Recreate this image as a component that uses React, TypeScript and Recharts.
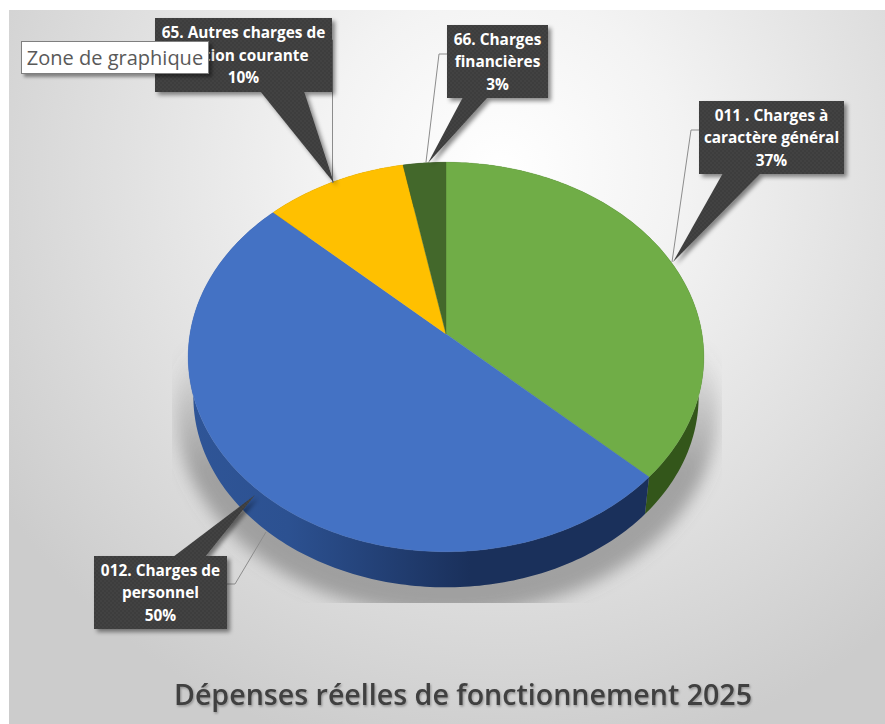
import { PieChart, Pie } from 'recharts'

const categories = [
  '011 . Charges à caractère général',
  '012. Charges de personnel',
  '65. Autres charges de gestion courante',
  '66. Charges financières',
]
const values = [37, 50, 10, 3]
const faceColors = ['#70ad47', '#4472c4', '#ffc000', '#43682b']
const wallColors = ['#33561a', 'url(#blueWall)', '#997300', '#28401a']
const labelLines = [
  ['011 . Charges à', 'caractère général'],
  ['012. Charges de', 'personnel'],
  ['65. Autres charges de', 'gestion courante'],
  ['66. Charges', 'financières'],
]

const faceData = categories.map((name, i) => ({ name, value: values[i], fill: faceColors[i] }))
const wallData = categories.map((name, i) => ({ name, value: values[i], fill: wallColors[i] }))

// callout layout, same order as the categories
const callouts = [
  { box: [699, 101, 145, 73], base: [723, 761], tip: [673, 262], leader: '699,130 691,130 672,262' },
  { box: [94, 556, 133, 73], base: [173, 205], tip: [255, 495], leader: '227,584 235,584 266,532' },
  { box: [155, 18, 177, 74], base: [260, 304], tip: [334, 183], leader: '332,40 332.5,40 332.5,183' },
  { box: [447, 25, 101, 73], base: [463, 488], tip: [428, 163], leader: '447,54 439,54 426,162' },
]

const WIDTH = 885
const HEIGHT = 724
const CX = 446
const CY = 334
const RADIUS = 256
const TILT = 0.75
const PERSPECTIVE = 0.118
const WALL_SCALE = 0.98
const WALL_DROP = 40
const RAD = Math.PI / 180

// the disc lies flat in perspective, so the nearer half looks bigger
function project(cx: number, cy: number, r: number, deg: number) {
  const c = Math.cos(deg * RAD)
  const s = Math.sin(deg * RAD)
  const k = 1 + PERSPECTIVE * s
  return [cx + (r * c) / k, cy - (r * TILT * s) / k]
}

function arcPoints(cx: number, cy: number, r: number, from: number, to: number) {
  const steps = Math.max(2, Math.ceil(Math.abs(to - from)))
  const pts: number[][] = []
  for (let i = 0; i <= steps; i++) {
    pts.push(project(cx, cy, r, from + ((to - from) * i) / steps))
  }
  return pts
}

const toPath = (pts: number[][]) =>
  'M' + pts.map((p) => `${p[0].toFixed(2)},${p[1].toFixed(2)}`).join('L') + 'Z'

function FaceSector(props: any) {
  const { cx, cy, outerRadius, startAngle, endAngle, fill } = props
  const pts = [[cx, cy], ...arcPoints(cx, cy, outerRadius, startAngle, endAngle)]
  return <path d={toPath(pts)} fill={fill} stroke={fill} strokeWidth={0.4} />
}

function WallSector(props: any) {
  const { cx, cy, outerRadius, startAngle, endAngle, fill } = props
  const top = arcPoints(cx, cy, outerRadius, startAngle, endAngle)
  const bottom = arcPoints(cx, cy + WALL_DROP, outerRadius * WALL_SCALE, endAngle, startAngle)
  return <path d={toPath([...top, ...bottom])} fill={fill} />
}

function Callout(props: any) {
  const { index, percent } = props
  const { box, base, tip, leader } = callouts[index]
  const [x, y, w, h] = box
  const up = tip[1] < y
  const edge = up ? y : y + h
  const lines = [...labelLines[index], `${Math.round(percent * 100)}%`]
  const middle = y + h / 2
  return (
    <g>
      <polyline points={leader} fill="none" stroke="#8c8c8c" strokeWidth={1} />
      <g filter="url(#calloutShadow)">
        <path
          d={`M${x},${y}H${x + w}V${y + h}H${x}Z`}
          fill="url(#calloutDots)"
        />
        <path
          d={`M${base[0]},${edge + (up ? 1 : -1)}L${tip[0]},${tip[1]}L${base[1]},${edge + (up ? 1 : -1)}Z`}
          fill="url(#calloutDots)"
        />
      </g>
      {lines.map((line, i) => (
        <text
          key={line}
          x={x + w / 2}
          y={middle + (i - 1) * 22.5 + 5.5}
          textAnchor="middle"
          fontFamily="Open Sans"
          fontWeight={700}
          fontSize={15.4}
          fill="#ffffff"
        >
          {line}
        </text>
      ))}
    </g>
  )
}

export default function App() {
  const shadow = toPath(arcPoints(CX + 1, CY + 52, RADIUS * 1.05, 0, 360))
  return (
    <div style={{ position: 'absolute', left: 0, top: 0, width: WIDTH, height: HEIGHT, background: '#fff', overflow: 'hidden' }}>
      <PieChart width={WIDTH} height={HEIGHT} margin={{ top: 0, right: 0, bottom: 0, left: 0 }}>
        <defs>
          <radialGradient id="chartArea" gradientUnits="userSpaceOnUse" cx={500} cy={170} r={600}>
            <stop offset="0%" stopColor="#ffffff" />
            <stop offset="30%" stopColor="#f3f3f3" />
            <stop offset="100%" stopColor="#cccccc" />
          </radialGradient>
          <linearGradient id="blueWall" gradientUnits="userSpaceOnUse" x1={190} y1={0} x2={470} y2={0}>
            <stop offset="0%" stopColor="#2f5597" />
            <stop offset="35%" stopColor="#2c5191" />
            <stop offset="100%" stopColor="#1a305b" />
          </linearGradient>
          <linearGradient id="shadowFade" gradientUnits="userSpaceOnUse" x1={0} y1={345} x2={0} y2={470}>
            <stop offset="0%" stopColor="#6f6f6f" stopOpacity={0} />
            <stop offset="100%" stopColor="#6f6f6f" stopOpacity={0.55} />
          </linearGradient>
          <pattern id="calloutDots" patternUnits="userSpaceOnUse" width={4} height={4}>
            <rect width={4} height={4} fill="#3d3d3d" />
            <circle cx={1} cy={1} r={0.7} fill="#4c4c4c" />
            <circle cx={3} cy={3} r={0.7} fill="#4c4c4c" />
          </pattern>
          <filter id="calloutShadow" x="-20%" y="-20%" width="140%" height="140%">
            <feDropShadow dx={3} dy={3} stdDeviation={2} floodColor="#000000" floodOpacity={0.45} />
          </filter>
          <filter id="discBlur" x="-10%" y="-10%" width="120%" height="120%">
            <feGaussianBlur stdDeviation={8} />
          </filter>
          <filter id="titleShadow" x="-5%" y="-20%" width="110%" height="140%">
            <feDropShadow dx={1} dy={1.5} stdDeviation={1} floodColor="#000000" floodOpacity={0.3} />
          </filter>
          <clipPath id="shadowClip">
            <rect x={172} y={340} width={550} height={263} />
          </clipPath>
        </defs>
        <rect x={9} y={10} width={WIDTH - 9} height={HEIGHT - 10} fill="url(#chartArea)" />
        <g clipPath="url(#shadowClip)">
          <path d={shadow} fill="url(#shadowFade)" filter="url(#discBlur)" />
        </g>
        <Pie
          data={wallData}
          dataKey="value"
          nameKey="name"
          cx={CX}
          cy={CY}
          outerRadius={RADIUS}
          startAngle={90}
          endAngle={-270}
          stroke="none"
          shape={WallSector}
          isAnimationActive={false}
        />
        <Pie
          data={faceData}
          dataKey="value"
          nameKey="name"
          cx={CX}
          cy={CY}
          outerRadius={RADIUS}
          startAngle={90}
          endAngle={-270}
          stroke="none"
          shape={FaceSector}
          label={Callout}
          labelLine={false}
          isAnimationActive={false}
        />
        <text
          x={463}
          y={705}
          textAnchor="middle"
          fontFamily="Open Sans"
          fontWeight={600}
          fontSize={28.6}
          fill="#404040"
          filter="url(#titleShadow)"
        >
          Dépenses réelles de fonctionnement 2025
        </text>
      </PieChart>
      <div
        style={{
          position: 'absolute',
          left: 21,
          top: 41,
          width: 186,
          height: 31,
          lineHeight: '31px',
          textAlign: 'center',
          background: '#fff',
          border: '1px solid #7f7f7f',
          boxShadow: '3px 3px 3px rgba(0,0,0,0.4)',
          fontFamily: 'Open Sans',
          fontSize: 20,
          color: '#595959',
          whiteSpace: 'nowrap',
        }}
      >
        Zone de graphique
      </div>
    </div>
  )
}
